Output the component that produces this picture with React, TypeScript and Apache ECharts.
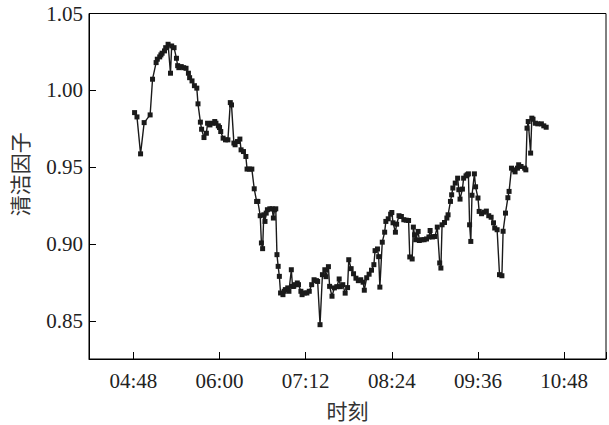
import React, { useEffect, useRef } from "react";
import * as echarts from "echarts";

// 时刻 (HH:MM)
const times: string[] = [
  "04:49", "04:51", "04:54", "04:57", "05:02", "05:04", "05:07", "05:08", "05:10", "05:11",
  "05:12", "05:14", "05:15", "05:17", "05:19", "05:20", "05:22", "05:24", "05:25", "05:26",
  "05:28", "05:30", "05:32", "05:34", "05:35", "05:37", "05:39", "05:41", "05:42",
  "05:44", "05:45", "05:47", "05:49", "05:50", "05:52", "05:54", "05:56", "05:57", "05:59",
  "06:00", "06:01", "06:03", "06:05", "06:07", "06:09", "06:10", "06:12", "06:13", "06:15",
  "06:17", "06:18", "06:20", "06:22", "06:23", "06:25", "06:27", "06:29", "06:31", "06:32",
  "06:34", "06:35", "06:36", "06:37", "06:38", "06:39", "06:40", "06:42", "06:44", "06:45",
  "06:46", "06:47", "06:48", "06:49", "06:50", "06:51", "06:53", "06:54", "06:55", "06:57",
  "06:58", "07:00", "07:01", "07:02", "07:03", "07:05", "07:06", "07:08", "07:09", "07:11",
  "07:13", "07:15", "07:17", "07:19", "07:21", "07:22", "07:24", "07:26", "07:28", "07:29",
  "07:31",
  "07:32", "07:34", "07:36", "07:38", "07:40", "07:41", "07:43", "07:45", "07:47", "07:48",
  "07:50", "07:52", "07:54", "07:56", "07:58", "08:00", "08:01", "08:03", "08:05", "08:07",
  "08:09", "08:10", "08:12", "08:13", "08:14", "08:16", "08:18", "08:19", "08:21", "08:23",
  "08:24", "08:25", "08:27", "08:28", "08:30", "08:32", "08:34", "08:36", "08:38",
  "08:39", "08:41", "08:42", "08:43", "08:44", "08:46", "08:47", "08:49", "08:51", "08:53",
  "08:55", "08:56", "08:58", "09:00", "09:02", "09:04", "09:05", "09:06", "09:08", "09:10",
  "09:11", "09:13", "09:14", "09:15", "09:17", "09:19", "09:20", "09:21", "09:23", "09:24",
  "09:26", "09:27", "09:28", "09:29", "09:30", "09:31", "09:33", "09:34", "09:36", "09:37",
  "09:39", "09:41", "09:43", "09:45", "09:47", "09:49", "09:50", "09:52", "09:54", "09:56",
  "09:57", "09:59", "10:01", "10:02", "10:04", "10:06", "10:07", "10:09", "10:10", "10:12",
  "10:15", "10:16", "10:17", "10:18", "10:20", "10:21", "10:22", "10:24", "10:26", "10:29",
  "10:31", "10:33",
];

// 清洁因子
const cleanFactor: number[] = [
  0.9856, 0.9828, 0.9588, 0.9791, 0.9841, 1.0073, 1.0181, 1.0203, 1.0218, 1.0231,
  1.0242, 1.0257, 1.0278, 1.0300, 1.0112, 1.0289, 1.0278, 1.0209, 1.0161, 1.0148,
  1.0155, 1.0148, 1.0144, 1.0112, 1.0083, 1.0062, 1.0031, 1.0015, 0.9913, 0.9794,
  0.9748, 0.9694, 0.9722, 0.9787, 0.9776, 0.9787, 0.9798, 0.9787, 0.9770, 0.9759,
  0.9733, 0.9690, 0.9679, 0.9679, 0.9921, 0.9906, 0.9658, 0.9647, 0.9668, 0.9684,
  0.9614, 0.9603, 0.9571, 0.9489, 0.9489, 0.9489, 0.9361, 0.9279, 0.9279, 0.9186,
  0.9009, 0.8972, 0.9192, 0.9149, 0.9203, 0.9225, 0.9231, 0.9231, 0.9171, 0.9225,
  0.9231, 0.8933, 0.8857, 0.8792, 0.8684, 0.8673, 0.8695, 0.8706, 0.8717, 0.8695,
  0.8835, 0.8727, 0.8727, 0.8738, 0.8749, 0.8738, 0.8695, 0.8673, 0.8684, 0.8684,
  0.8695, 0.8738, 0.8770, 0.8764, 0.8759, 0.8478, 0.8803, 0.8835, 0.8790, 0.8855,
  0.8727, 0.8663, 0.8717, 0.8725, 0.8775, 0.8725, 0.8738, 0.8683, 0.8719, 0.8900,
  0.8842, 0.8809, 0.8780, 0.8764, 0.8770, 0.8754, 0.8702, 0.8783, 0.8806, 0.8832,
  0.8868, 0.8959, 0.8970, 0.8920, 0.8722, 0.9014, 0.9079, 0.9149, 0.9166, 0.9196,
  0.9207, 0.9140, 0.9079, 0.9131, 0.9186, 0.9181, 0.9160, 0.9157, 0.9155, 0.8918,
  0.8905, 0.9112, 0.9062, 0.9030, 0.9084, 0.9025, 0.9030, 0.9030, 0.9035, 0.9048,
  0.9090, 0.9048, 0.9051, 0.9112, 0.8879, 0.8846, 0.9127, 0.9142, 0.9171, 0.9192,
  0.9279, 0.9322, 0.9366, 0.9398, 0.9430, 0.9355, 0.9294, 0.9359, 0.9430, 0.9445,
  0.9452, 0.9458, 0.9127, 0.9019, 0.9319, 0.9458, 0.9374, 0.9301, 0.9214, 0.9199,
  0.9209, 0.9216, 0.9186, 0.9176, 0.9140, 0.9106, 0.9095, 0.8803, 0.8796, 0.9085,
  0.9203, 0.9303, 0.9344, 0.9495, 0.9484, 0.9471, 0.9495, 0.9517, 0.9506, 0.9495,
  0.9484, 0.9755, 0.9798, 0.9593, 0.9820, 0.9813, 0.9787, 0.9783, 0.9783, 0.9770,
  0.9761,
];

const xTickLabels: string[] = ["04:48", "06:00", "07:12", "08:24", "09:36", "10:48"];
const yTickLabels: string[] = ["0.85", "0.90", "0.95", "1.00", "1.05"];

// axis extents (minutes after midnight for x)
const xAxisMinMinutes = 250.9;
const xAxisMaxMinutes = 683;
const yAxisMin = 0.8255;
const yAxisMax = 1.05;

// x axis unit: 36 minutes, so 72-minute ticks become "nice" steps of 2
const UNIT_MIN = 36;
const toUnit = (t: string) => {
  const [h, m] = t.split(":").map(Number);
  return (h * 60 + m) / UNIT_MIN;
};
const fromUnit = (u: number) => {
  const mins = Math.round(u * UNIT_MIN);
  const h = Math.floor(mins / 60);
  const m = mins % 60;
  return `${String(h).padStart(2, "0")}:${String(m).padStart(2, "0")}`;
};

const SERIF = "'Liberation Serif', 'Times New Roman', serif";
const CJK = "'Noto Sans CJK SC', sans-serif";

export default function App() {
  const ref = useRef<HTMLDivElement>(null);

  useEffect(() => {
    if (!ref.current) return;
    const chart = echarts.init(ref.current, undefined, { renderer: "svg" });
    const data = times.map((t, i) => [toUnit(t), cleanFactor[i]]);
    chart.setOption({
      animation: false,
      backgroundColor: "#ffffff",
      grid: {
        left: 88.5,
        top: 13.5,
        width: 518.5,
        height: 345.5,
        show: true,
        borderColor: "#000",
        borderWidth: 1,
        backgroundColor: "transparent",
      },
      xAxis: {
        type: "value",
        min: xAxisMinMinutes / UNIT_MIN,
        max: xAxisMaxMinutes / UNIT_MIN,
        splitNumber: 6,
        name: "时刻",
        nameLocation: "middle",
        nameGap: 40,
        nameTextStyle: { fontFamily: CJK, fontSize: 21, color: "#333" },
        axisLine: { show: true, lineStyle: { color: "#000", width: 1 } },
        axisTick: { show: true, inside: true, length: 7, lineStyle: { color: "#000" } },
        axisLabel: {
          fontFamily: SERIF,
          fontSize: 21,
          color: "#222",
          margin: 11,
          formatter: (u: number) => {
            const s = fromUnit(u);
            return xTickLabels.includes(s) && Math.abs(u - Math.round(u)) < 1e-6 ? s : "";
          },
        },
        splitLine: { show: false },
      },
      yAxis: {
        type: "value",
        min: yAxisMin,
        max: yAxisMax,
        splitNumber: 5,
        name: "清洁因子",
        nameLocation: "middle",
        nameGap: 60,
        nameRotate: 90,
        nameTextStyle: { fontFamily: CJK, fontSize: 21, color: "#333", padding: [0, 0, 0, 24] },
        axisLine: { show: true, lineStyle: { color: "#000", width: 1 } },
        axisTick: { show: true, inside: true, length: 7, lineStyle: { color: "#000" } },
        axisLabel: {
          fontFamily: SERIF,
          fontSize: 21,
          color: "#222",
          margin: 6,
          formatter: (v: number) => {
            const s = v.toFixed(2);
            return yTickLabels.includes(s) && Math.abs(v - Number(s)) < 1e-6 ? s : "";
          },
        },
        splitLine: { show: false },
      },
      series: [
        {
          type: "line",
          data,
          symbol: "rect",
          symbolSize: 5,
          showSymbol: true,
          lineStyle: { color: "#1a1a1a", width: 1.4 },
          itemStyle: { color: "#1a1a1a" },
        },
      ],
    });
    return () => chart.dispose();
  }, []);

  return (
    <div
      ref={ref}
      style={{ position: "fixed", left: 0, top: 0, width: 609, height: 425 }}
    />
  );
}
